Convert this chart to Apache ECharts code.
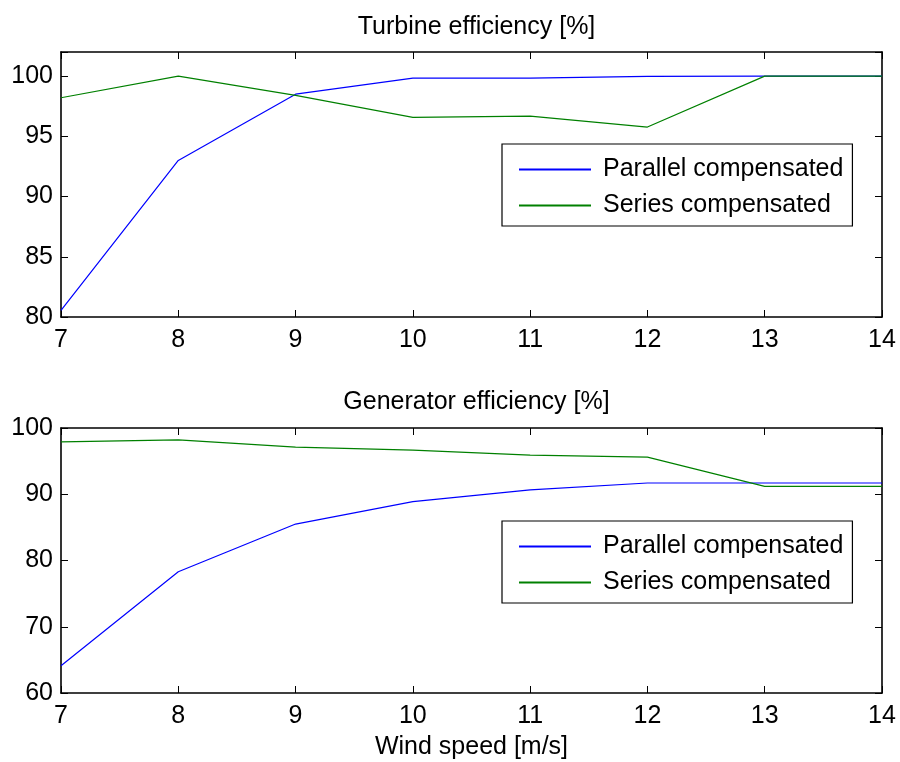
<!DOCTYPE html>
<html>
<head>
<meta charset="utf-8">
<title>Turbine and generator efficiency</title>
<script src="https://cdn.jsdelivr.net/npm/echarts@6/dist/echarts.min.js"></script>
<style>
  html, body { margin: 0; padding: 0; background: #fff; }
  #chart { width: 900px; height: 762px; }
</style>
</head>
<body>
<div id="chart"></div>
<script>
// Wind speed steps [m/s]
const windSpeed = [7, 8, 9, 10, 11, 12, 13, 14];

// Turbine efficiency [%]
const turbineParallel = [80.55, 93.0, 98.5, 99.83, 99.83, 99.97, 100.0, 100.0];
const turbineSeries   = [98.2, 100.0, 98.4, 96.57, 96.68, 95.77, 100.0, 100.0];

// Generator efficiency [%]
const generatorParallel = [64.1, 78.3, 85.5, 88.9, 90.66, 91.7, 91.7, 91.7];
const generatorSeries   = [97.9, 98.2, 97.1, 96.65, 95.9, 95.6, 91.2, 91.2];

const seriesNames = ['Parallel compensated', 'Series compensated'];
const panelTitles = ['Turbine efficiency [%]', 'Generator efficiency [%]'];
const xAxisTitle = 'Wind speed [m/s]';

const FONT = '"Liberation Sans", Arial, Helvetica, sans-serif';
const FS = 25;
const BLUE = '#0000ff';
const GREEN = '#008000';

const pairs = (xs, ys) => xs.map((x, i) => [x, ys[i]]);

const gridLeft = 61, gridWidth = 821, gridHeight = 265;
const gridTops = [52, 428];

function xAxisPair(gridIndex, withName) {
  const common = {
    type: 'value', gridIndex, min: 7, max: 14, interval: 1,
    splitLine: { show: false },
    axisLine: { show: true, onZero: false, lineStyle: { color: '#000', width: 1.6 } },
    axisTick: { show: true, inside: true, length: 7, lineStyle: { color: '#000', width: 1 } }
  };
  return [
    Object.assign({}, common, {
      position: 'bottom',
      axisLabel: { show: true, color: '#000', fontSize: FS, fontFamily: FONT, margin: 11 },
      name: withName ? xAxisTitle : '',
      nameLocation: 'middle', nameGap: 42,
      nameTextStyle: { color: '#000', fontSize: FS, fontFamily: FONT }
    }),
    Object.assign({}, common, { position: 'top', axisLabel: { show: false } })
  ];
}

function yAxisPair(gridIndex, min, max, interval) {
  const common = {
    type: 'value', gridIndex, min, max, interval,
    splitLine: { show: false },
    axisLine: { show: true, onZero: false, lineStyle: { color: '#000', width: 1.6 } },
    axisTick: { show: true, inside: true, length: 7, lineStyle: { color: '#000', width: 1 } }
  };
  return [
    Object.assign({}, common, {
      position: 'left',
      axisLabel: {
        show: true, color: '#000', fontSize: FS, fontFamily: FONT, margin: 8,
        formatter: v => (Math.abs(v / interval - Math.round(v / interval)) < 1e-9 ? String(v) : '')
      }
    }),
    Object.assign({}, common, { position: 'right', axisLabel: { show: false } })
  ];
}

function lineSeries(name, data, color, xi, yi) {
  return {
    type: 'line', name, data, xAxisIndex: xi, yAxisIndex: yi,
    symbol: 'none', smooth: false, animation: false,
    lineStyle: { color, width: 1.2 },
    itemStyle: { color }
  };
}

function legendAt(top) {
  return {
    data: seriesNames,
    orient: 'vertical',
    left: 502, top,
    backgroundColor: '#fff',
    borderColor: '#000', borderWidth: 1.2,
    padding: [13, 9, 8, 16],
    itemWidth: 72, itemHeight: 14, itemGap: 11,
    selectedMode: false,
    // plain line swatches, no marker dot
    itemStyle: { opacity: 0 },
    textStyle: { color: '#000', fontSize: FS, fontFamily: FONT, padding: [0, 0, 0, 7] }
  };
}

const option = {
  backgroundColor: '#fff',
  animation: false,
  title: panelTitles.map((t, i) => ({
    text: t,
    left: gridLeft + gridWidth / 2,
    textAlign: 'center',
    top: i === 0 ? 10 : 385,
    textStyle: { color: '#000', fontSize: FS, fontFamily: FONT, fontWeight: 'normal' }
  })),
  grid: gridTops.map(top => ({
    left: gridLeft, width: gridWidth, top, height: gridHeight,
    containLabel: false, show: false
  })),
  xAxis: [...xAxisPair(0, false), ...xAxisPair(1, true)],
  yAxis: [...yAxisPair(0, 80, 102, 5), ...yAxisPair(1, 60, 100, 10)],
  legend: [legendAt(144), legendAt(521)],
  series: [
    lineSeries(seriesNames[0], pairs(windSpeed, turbineParallel), BLUE, 0, 0),
    lineSeries(seriesNames[1], pairs(windSpeed, turbineSeries), GREEN, 0, 0),
    lineSeries(seriesNames[0], pairs(windSpeed, generatorParallel), BLUE, 2, 2),
    lineSeries(seriesNames[1], pairs(windSpeed, generatorSeries), GREEN, 2, 2)
  ]
};

const chart = echarts.init(document.getElementById('chart'), null, { renderer: 'canvas' });
chart.setOption(option);
</script>
</body>
</html>
